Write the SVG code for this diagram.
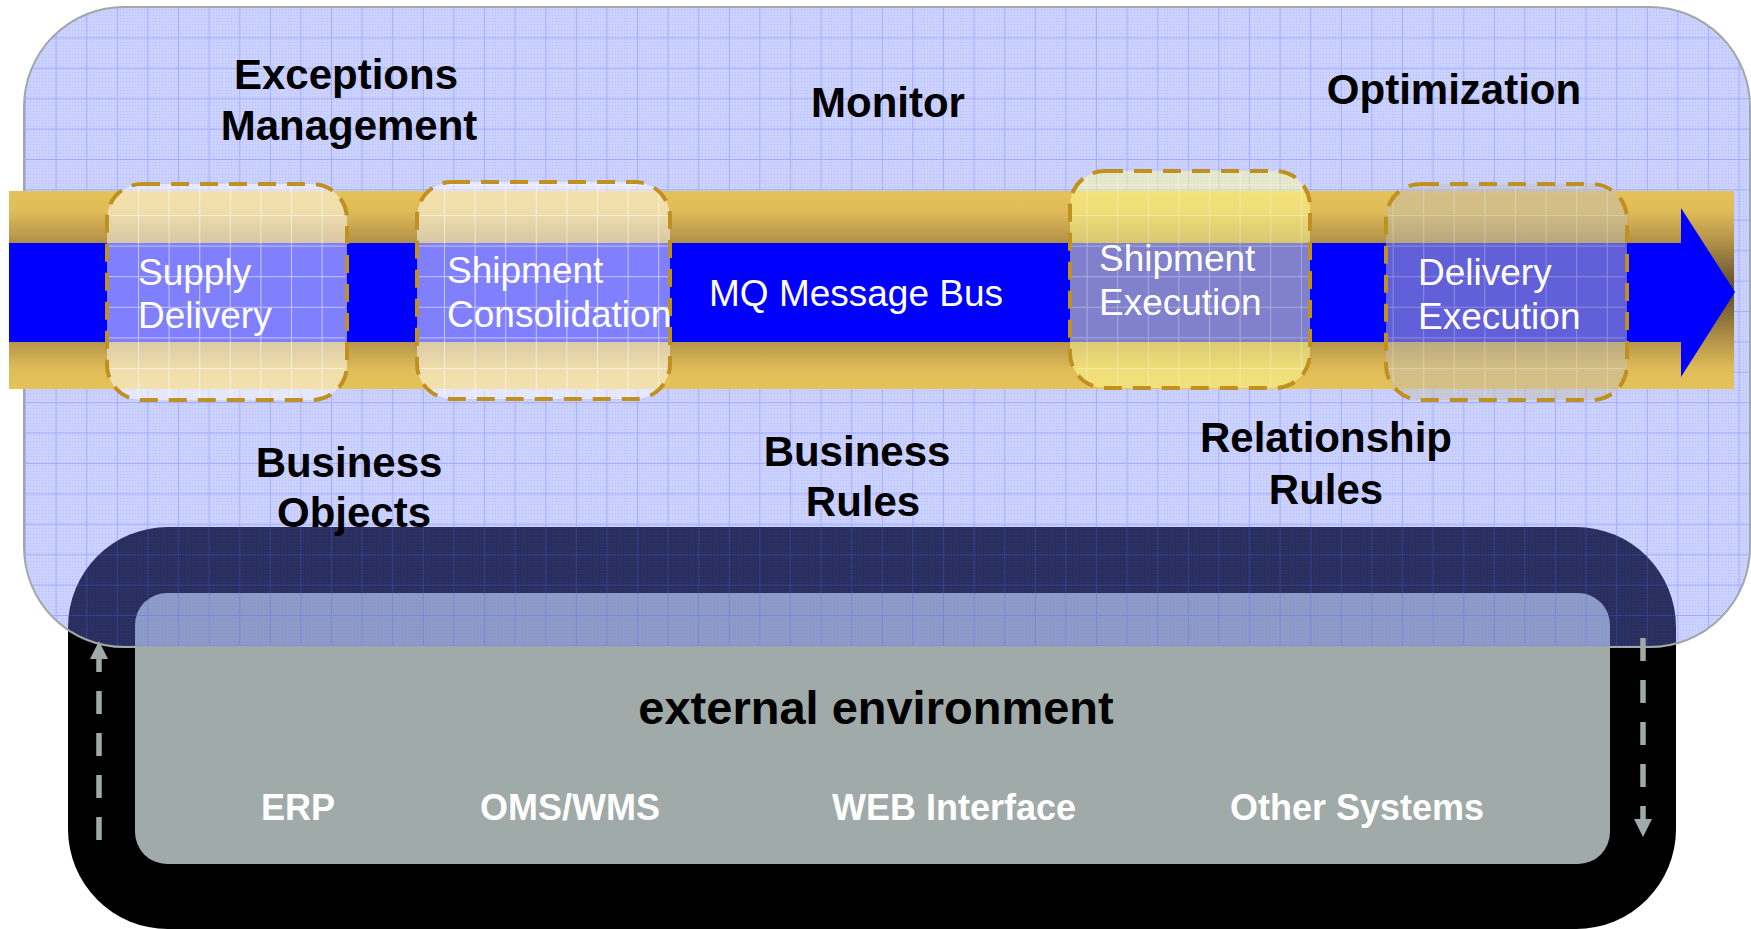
<svg xmlns="http://www.w3.org/2000/svg" width="1751" height="929" viewBox="0 0 1751 929">
<style>
.lbl{font-family:"Liberation Sans",Arial,sans-serif;font-weight:bold;font-size:42px;fill:#000;text-anchor:middle}
.ntx{font-family:"Liberation Sans",Arial,sans-serif;font-size:37px;fill:#fff}
.sys{font-family:"Liberation Sans",Arial,sans-serif;font-weight:bold;font-size:36px;fill:#fff;text-anchor:middle}
.ext{font-family:"Liberation Sans",Arial,sans-serif;font-weight:bold;font-size:47px;fill:#000;text-anchor:middle}
.node{stroke:#C09020;stroke-width:4;stroke-dasharray:18 11}
.conn{stroke:#A0AAA8;stroke-width:5.5;stroke-dasharray:23 19;fill:none}
</style>
<defs>
<pattern id="grid" patternUnits="userSpaceOnUse" x="25" y="7" width="30.6" height="30.4">
<path d="M0 0.5H30.6M0.5 0V30.4" stroke="#4A5CFF" stroke-opacity="0.3" stroke-width="1" fill="none"/>
</pattern>
<pattern id="fine" patternUnits="userSpaceOnUse" width="3" height="3">
<rect width="1" height="1" fill="#5060FF" fill-opacity="0.18"/>
</pattern>
<pattern id="wgrid" patternUnits="userSpaceOnUse" x="15.6" y="0.8" width="30.6" height="30.6">
<path d="M0 0.5H30.6M0.5 0V30.6" stroke="#FFFFFF" stroke-opacity="0.55" stroke-width="1" fill="none"/>
</pattern>
<linearGradient id="gold" x1="0" y1="191" x2="0" y2="389" gradientUnits="userSpaceOnUse">
<stop offset="0" stop-color="#E6C25A"/>
<stop offset="0.1" stop-color="#E0BC58"/>
<stop offset="0.26" stop-color="#B09048"/>
<stop offset="0.5" stop-color="#5A4A28"/>
<stop offset="0.74" stop-color="#B09048"/>
<stop offset="0.9" stop-color="#E0BC58"/>
<stop offset="1" stop-color="#E6C25A"/>
</linearGradient>
<marker id="ah" markerUnits="userSpaceOnUse" markerWidth="18" markerHeight="18" refX="9" refY="9" orient="auto">
<path d="M0 0L18 9L0 18Z" fill="#A0AAA8"/>
</marker>
</defs>

<g id="external">
<rect x="68" y="527" width="1608" height="402" rx="100" fill="#000"/>
<rect x="135" y="593" width="1475" height="271" rx="32" fill="#A0AAA8"/>
</g>

<g id="panel">
<rect x="24" y="7" width="1726" height="640" rx="100" fill="#7383FF" fill-opacity="0.36"/>
<rect x="24" y="7" width="1726" height="640" rx="100" fill="url(#fine)"/>
<rect x="24" y="7" width="1726" height="640" rx="100" fill="url(#grid)" stroke="#A0A8A8" stroke-width="2"/>
</g>

<g id="connectors">
<line class="conn" x1="99" y1="840" x2="99" y2="650" marker-end="url(#ah)"/>
<line class="conn" x1="1643" y1="638" x2="1643" y2="828" marker-end="url(#ah)"/>
</g>

<g id="bus">
<rect x="9" y="191" width="1725" height="198" fill="url(#gold)"/>
<polygon points="9,243 1681,243 1681,208 1735,292 1681,377 1681,342 9,342" fill="#0000FF"/>
<text class="ntx" x="709" y="306">MQ Message Bus</text>
</g>

<g id="supply-delivery">
<rect class="node" x="107" y="184" width="240" height="216" rx="35" fill="#FFFFFF" fill-opacity="0.5"/>
<rect x="109" y="186" width="236" height="212" rx="33" fill="url(#wgrid)"/>
<text class="ntx" x="138" y="285">Supply</text>
<text class="ntx" x="138" y="328">Delivery</text>
</g>

<g id="shipment-consolidation">
<rect class="node" x="417" y="182" width="253" height="217" rx="35" fill="#FFFFFF" fill-opacity="0.5"/>
<rect x="419" y="184" width="249" height="213" rx="33" fill="url(#wgrid)"/>
<text class="ntx" x="447" y="283">Shipment</text>
<text class="ntx" x="447" y="327">Consolidation</text>
</g>

<g id="shipment-execution">
<rect class="node" x="1070" y="171" width="240" height="217" rx="35" fill="#FFFF99" fill-opacity="0.5"/>
<rect x="1072" y="173" width="236" height="213" rx="33" fill="url(#wgrid)" opacity="0.6"/>
<text class="ntx" x="1099" y="271">Shipment</text>
<text class="ntx" x="1099" y="315">Execution</text>
</g>

<g id="delivery-execution">
<rect class="node" x="1386" y="184" width="241" height="216" rx="35" fill="#C4C0B4" fill-opacity="0.5"/>
<rect x="1388" y="186" width="237" height="212" rx="33" fill="url(#wgrid)" opacity="0.5"/>
<text class="ntx" x="1418" y="285">Delivery</text>
<text class="ntx" x="1418" y="329">Execution</text>
</g>

<g id="labels">
<text class="lbl" x="346" y="89">Exceptions</text>
<text class="lbl" x="349" y="140">Management</text>
<text class="lbl" x="888" y="117">Monitor</text>
<text class="lbl" x="1454" y="104">Optimization</text>
<text class="lbl" x="349" y="477">Business</text>
<text class="lbl" x="354" y="527">Objects</text>
<text class="lbl" x="857" y="466">Business</text>
<text class="lbl" x="863" y="516">Rules</text>
<text class="lbl" x="1326" y="452">Relationship</text>
<text class="lbl" x="1326" y="504">Rules</text>
</g>

<g id="external-labels">
<text class="ext" x="876" y="724">external environment</text>
<text class="sys" x="298" y="820">ERP</text>
<text class="sys" x="570" y="820">OMS/WMS</text>
<text class="sys" x="954" y="820">WEB Interface</text>
<text class="sys" x="1357" y="820">Other Systems</text>
</g>
</svg>
